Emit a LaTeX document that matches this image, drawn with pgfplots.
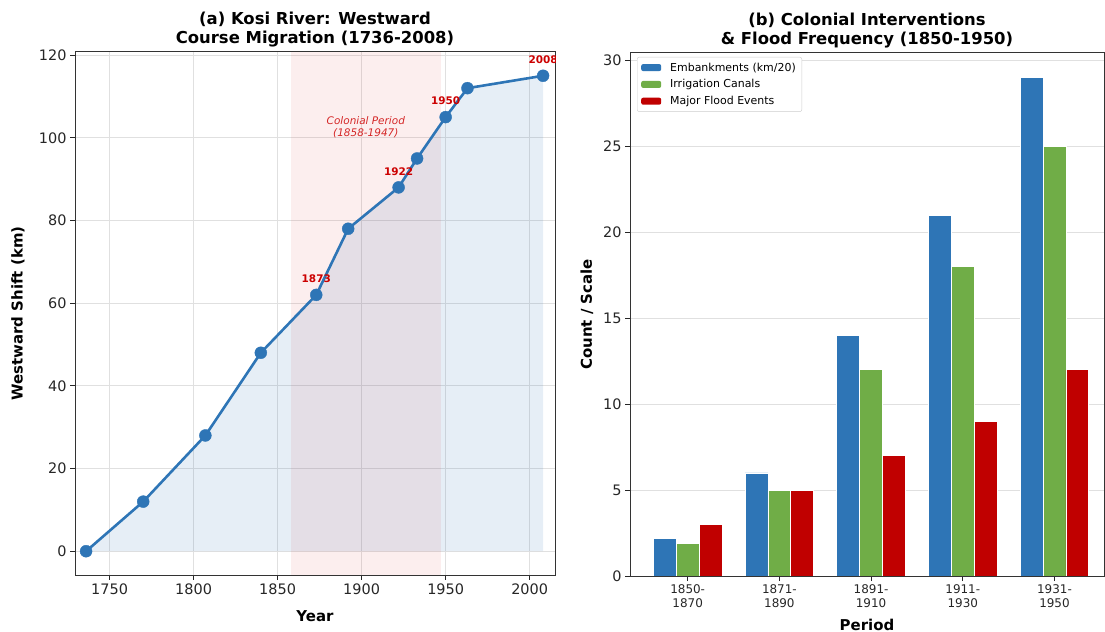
\documentclass[border=0pt]{standalone}
\usepackage{pgfplots}
\pgfplotsset{compat=1.18}
\usepackage{fontspec}
\setmainfont{DejaVu Sans}
\definecolor{lineblue}{RGB}{46,117,182}
\definecolor{bargreen}{RGB}{112,173,71}
\definecolor{barred}{RGB}{192,0,0}
\definecolor{annred}{RGB}{204,0,0}
\definecolor{spanred}{RGB}{214,39,40}
\definecolor{tickgray}{RGB}{38,38,38}

\pgfplotstableread{
year shift
1736 0
1770 12
1807 28
1840 48
1873 62
1892 78
1922 88
1933 95
1950 105
1963 112
2008 115
}\migration

\pgfplotstableread{
x emb irr flood
0 2.2 1.9 3
1 6 5 5
2 14 12 7
3 21 18 9
4 29 25 12
}\bars

\pgfplotsset{
  common/.style={
    scale only axis,
    anchor=south west,
    /pgf/number format/assume math mode=true,
    /pgf/number format/set thousands separator={},
    tick align=outside,
    tick pos=left,
    major tick length=5bp,
    every tick/.style={tickgray, line width=0.9bp},
    axis line style={black!80, line width=1bp},
    ticklabel style={font=\fontsize{14.5}{17}\selectfont, text=tickgray},
    label style={font=\bfseries\fontsize{15}{18}\selectfont},
    title style={font=\bfseries\fontsize{16.5}{20}\selectfont, align=center, at={(axis description cs:0.5,1)}, anchor=south, yshift=-5bp},
    grid style={black!12, line width=0.7bp},
  }
}

\begin{document}
\begin{tikzpicture}
\useasboundingbox (0,0) rectangle (1105bp,632bp);

% ---------------- Left panel ----------------
\begin{axis}[common,
  at={(75bp,57bp)},
  width=480bp, height=523bp,
  xmin=1729.4, xmax=2015.1, ymin=-5.75, ymax=120.75,
  xtick={1750,1800,...,2000}, ytick={0,20,...,120},
  grid=major,
  title={(a) Kosi River: Westward\\Course Migration (1736-2008)},
  xlabel={Year}, ylabel={Westward Shift (km)},
  xlabel style={at={(axis description cs:0.5,0)}, anchor=center, yshift=-41bp},
  ylabel style={at={(axis description cs:0,0.5)}, anchor=center, yshift=57bp},
]
\addplot[draw=none, fill=lineblue, fill opacity=0.12] coordinates {
 (1736,0) (1770,12) (1807,28) (1840,48) (1873,62) (1892,78) (1922,88) (1933,95) (1950,105) (1963,112) (2008,115) (2008,0)} -- cycle;
\fill[spanred, fill opacity=0.08] (axis cs:1858,-5.75) rectangle (axis cs:1947,120.75);
\addplot[lineblue, line width=2.6bp, mark=*, mark size=6bp, mark options={solid, fill=lineblue, draw=lineblue, line width=0.4bp}] table[x=year,y=shift] {\migration};
\node[font=\itshape\fontsize{10.5}{12.5}\selectfont, text=annred!85, align=center] at (axis cs:1902.5,102.5) {Colonial Period\\(1858-1947)};
\node[font=\bfseries\fontsize{10.5}{12}\selectfont, text=annred, yshift=16bp] at (axis cs:1873,62) {1873};
\node[font=\bfseries\fontsize{10.5}{12}\selectfont, text=annred, yshift=16bp] at (axis cs:1922,88) {1922};
\node[font=\bfseries\fontsize{10.5}{12}\selectfont, text=annred, yshift=16bp] at (axis cs:1950,105) {1950};
\node[font=\bfseries\fontsize{10.5}{12}\selectfont, text=annred, yshift=16bp] at (axis cs:2008,115) {2008};
\end{axis}

% ---------------- Right panel ----------------
\begin{axis}[common,
  at={(630bp,56bp)},
  width=474bp, height=523bp,
  xmin=-0.629, xmax=4.54, ymin=0, ymax=30.45,
  xtick={0,1,2,3,4},
  xticklabels={{1850-\\1870},{1871-\\1890},{1891-\\1910},{1911-\\1930},{1931-\\1950}},
  xticklabel style={align=center, font=\fontsize{12}{14}\selectfont},
  ytick={0,5,...,30},
  ymajorgrids,
  title={(b) Colonial Interventions\\\& Flood Frequency (1850-1950)},
  xlabel={Period}, ylabel={Count / Scale},
  xlabel style={at={(axis description cs:0.5,0)}, anchor=center, yshift=-49bp},
  ylabel style={at={(axis description cs:0,0.5)}, anchor=center, yshift=43bp},
  legend style={at={(axis description cs:0,1)}, anchor=north west, xshift=7bp, yshift=-4bp,
    draw=black!20, rounded corners=2bp, font=\fontsize{11}{13}\selectfont,
    row sep=3bp, inner xsep=4bp, inner ysep=3.5bp},
  legend cell align=left,
  legend image code/.code={\fill[#1, draw=none] (0bp,-3.5bp) rectangle (20bp,3.5bp);\path[draw=none, fill=none] (27bp,0bp);},
]
\addplot[ybar, bar width=0.25, bar shift=-0.25, fill=lineblue, draw=white, line width=0.8bp] table[x=x,y=emb] {\bars};
\addplot[ybar, bar width=0.25, bar shift=0, fill=bargreen, draw=white, line width=0.8bp] table[x=x,y=irr] {\bars};
\addplot[ybar, bar width=0.25, bar shift=0.25, fill=barred, draw=white, line width=0.8bp] table[x=x,y=flood] {\bars};
\legend{Embankments (km/20), Irrigation Canals, Major Flood Events}
\end{axis}
\end{tikzpicture}
\end{document}
